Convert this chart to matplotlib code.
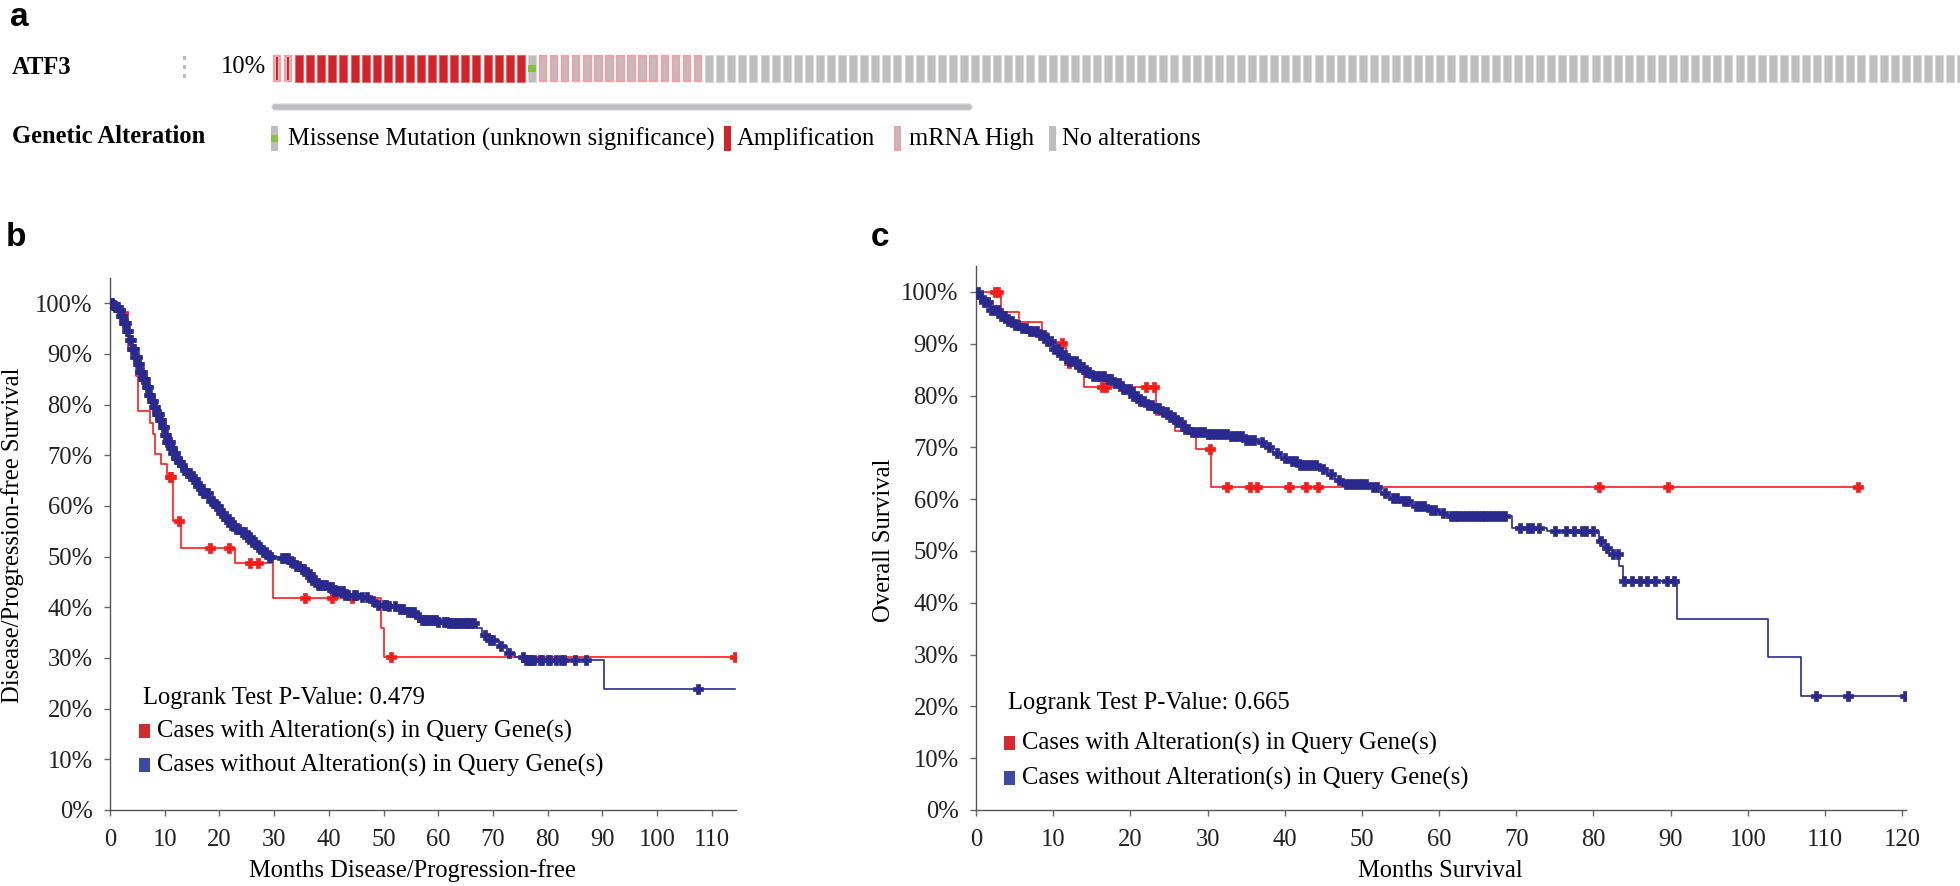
import numpy as np
import matplotlib
matplotlib.use("Agg")
import matplotlib.pyplot as plt
from matplotlib.patches import Rectangle, FancyBboxPatch

# ---------------- data ----------------
gene = "ATF3"
altered_pct = "10%"
alt_types = ["amp_mrna", "amp", "missense", "mrna", "none"]
alt_counts = [2, 21, 1, 15, 114]
legend_items = ["Missense Mutation (unknown significance)", "Amplification", "mRNA High", "No alterations"]

# Panel b: Disease/Progression-free survival
b_red_t = [0, 1.5, 3.2, 4.7, 5.1, 7.4, 7.8, 8.3, 9.3, 10.5, 11.5, 13.0, 22.9, 29.8, 49.5, 50.0]
b_red_s = [100, 98.1, 91.2, 85.6, 78.7, 76.3, 74.3, 70.2, 68.3, 65.8, 57.1, 51.8, 48.8, 41.9, 35.9, 30.1]
b_red_cens = [2.3, 10.9, 11.2, 12.7, 18.2, 21.7, 25.6, 27.1, 35.6, 40.5, 44.2, 51.3, 114.3]
b_red_end = 114.3

b_blue_t = [0, 0.5, 1, 1.5, 2, 2.5, 3, 3.5, 4, 4.5, 5, 5.5, 6, 6.5, 7, 7.5, 8, 8.5, 9, 9.5, 10, 10.5, 11,
            11.5, 12, 12.5, 13, 13.5, 14, 15, 16, 17, 18, 19, 20, 21, 22, 23, 24, 25,
            26, 27, 28, 29, 31, 33, 34, 35, 36, 37, 38, 40, 41, 43, 46, 47.5, 49, 51, 53, 54, 56, 57, 60,
            62, 67, 68, 69.5, 71, 72.5, 74, 76, 90.2]
b_blue_s = [100, 99.7, 99.3, 98.6, 97.5, 96.2, 94.5, 92.8, 91, 89.5, 88, 86.5, 85, 83.5, 82, 80.8, 79.5,
            78.2, 77, 75.5, 74, 72.7, 71.5, 70.5, 69.5, 68.7, 68, 67.2, 66.5, 65.3, 64, 62.5, 61,
            60, 58.7, 57.5, 56.2, 55.5, 54.8, 53.8, 52.8, 52, 51, 50, 49.7, 49, 48.2, 47.5, 46.5, 45.3,
            44.5, 44, 43.3, 42.5, 42, 41.3, 40.5, 40.2, 39.6, 39, 38, 37.5, 37.2, 37, 36, 34.5, 33.5,
            32.3, 31, 30.2, 29.7, 23.9]
b_blue_cens = [0.2, 0.4, 0.6, 0.8, 1.0, 1.2, 1.4, 1.6, 1.8, 2.0, 2.2, 2.5, 2.7, 2.9, 3.1, 3.3, 3.6, 3.8,
               4.0, 4.2, 4.4, 4.6, 4.9, 5.1, 5.3, 5.5, 5.8, 6.0, 6.2, 6.4, 6.7, 6.9, 7.1, 7.3, 7.6, 7.8,
               8.0, 8.2, 8.5, 8.7, 8.9, 9.1, 9.4, 9.6, 9.8, 10.0, 10.3, 10.5, 10.7, 10.9, 11.2, 11.4,
               11.6, 11.8, 12.1, 12.3, 12.6, 12.8, 13.2, 13.7, 14.1, 14.6, 15.1,
               15.5, 16.0, 16.5, 17.0, 17.4, 17.9, 18.4, 18.8, 19.3, 19.8, 20.3, 20.7, 21.2, 21.7, 22.2,
               22.6, 23.1, 23.6, 24.1, 24.6, 25.0, 25.5, 26.0, 26.5, 27.0, 27.5, 28.0, 28.5, 29.0, 29.5,
               31.5, 32.0, 32.5, 33.0, 33.5, 34.0, 34.5, 35.0, 35.5, 36.0, 36.5, 37.0, 37.5, 38.0, 38.5,
               39.0, 39.5, 40.0, 40.5, 41.0, 41.5, 42.0, 42.5, 43.0, 43.5, 44.5, 45.0, 46.0, 47.0, 48.0,
               49.0, 50.0, 50.5, 51.0, 52.0, 53.0, 53.5, 54.5, 55.0, 55.5, 56.5, 57.0, 57.5, 58.0, 58.5,
               59.0, 59.5, 60.0, 61.0, 61.5, 62.0, 62.5, 63.0, 63.5, 64.0, 64.5, 65.0, 65.5, 66.0, 66.5,
               68.5, 69.5, 70.0, 71.5, 73.0, 75.5, 76.0, 76.5, 77.0, 77.5, 78.5, 79.0, 80.0, 80.5, 81.5,
               82.5, 83.0, 85.0, 87.0, 107.4]
b_blue_end = 114.3
b_pvalue = "0.479"

# Panel c: Overall survival
c_red_t = [0, 3.2, 5.6, 8.5, 9.3, 11.7, 14.0, 23.3, 25.8, 28.5, 30.5]
c_red_s = [100, 96.2, 94.2, 92.0, 90.1, 86.2, 81.7, 76.3, 73.1, 69.6, 62.4]
c_red_cens = [2.4, 2.9, 11.1, 12.0, 16.3, 16.8, 22.0, 23.0, 30.3, 32.5, 35.5, 36.4, 40.5, 42.7, 44.3,
              80.7, 89.7, 114.3]
c_red_end = 114.3

c_blue_t = [0, 0.5, 1, 2, 3, 4, 5, 6, 7, 8, 9, 10, 11, 12, 13, 14, 15, 17, 18, 19, 20, 21, 22, 23, 24, 25,
            26, 27, 28, 30, 33, 35, 36.5, 37.5, 38.5, 39.5, 40.5, 42, 44.5, 45.5, 46.5, 47.5, 51, 52.5,
            53.5, 55, 56.5, 58.5, 60, 61, 69.5, 74, 80.7, 81.5, 82, 83.3, 83.8, 90.8, 102.6, 106.9]
c_blue_s = [100, 99, 98, 96.5, 95.3, 94.3, 93.6, 93, 92.4, 91.6, 90.6, 89, 87.8, 86.7, 85.6, 84.6, 83.8,
            83.2, 82.5, 81.3, 80, 79, 78.2, 77.5, 76.8, 75.8, 74.8, 73.6, 73, 72.6, 72.1, 71.5, 71, 70,
            69, 68, 67.3, 66.6, 65.8, 64.8, 63.6, 63, 62.4, 61.2, 60.3, 59.6, 58.7, 58, 57.3, 56.7, 54.5,
            53.8, 52, 50.5, 49.5, 47, 44.2, 36.8, 29.5, 22.0]
c_blue_cens = [0.3, 0.7, 1.1, 1.5, 2.0, 2.4, 2.8, 3.3, 3.7, 4.2, 4.6, 5.1, 5.5, 6.0, 6.5, 7.0, 7.4, 7.9,
               8.3, 8.8, 9.2, 9.7, 10.1, 10.6, 11.0, 11.5, 12.0, 12.4, 12.9, 13.3, 13.8, 14.3, 14.7, 15.2,
               15.7, 16.1, 16.6, 17.1, 17.5, 18.0, 18.5, 19.0, 19.4, 19.9, 20.4, 20.9, 21.3, 21.8, 22.3,
               22.8, 23.2, 23.7, 24.2, 24.7, 25.1, 25.6, 26.1, 26.6, 27.1, 27.5, 28.0, 28.5, 29.0, 29.5,
               30.0, 30.5, 31.0, 31.5, 32.0, 32.5, 33.0, 33.5, 34.0, 34.5, 35.0, 35.5, 36.0, 37.0, 38.0,
               39.0, 40.0, 41.0, 41.5, 42.0, 42.5, 43.0, 43.5, 44.0, 45.0, 46.0, 47.0, 48.0, 48.5, 49.0,
               49.5, 50.0, 50.5, 51.5, 52.0, 53.0, 54.0, 54.5, 55.5, 56.0, 57.0, 57.5, 58.0, 59.0, 59.5,
               60.5, 61.5, 62.0, 62.5, 63.0, 63.5, 64.0, 64.5, 65.0, 65.5, 66.0, 66.5, 67.0, 67.5, 68.0,
               68.5, 70.5, 71.5, 72.0, 73.0, 75.0, 76.5, 77.5, 78.5, 79.0, 80.0, 81.0, 81.8, 82.5, 83.2,
               84.0, 85.0, 86.0, 87.0, 88.0, 89.5, 90.4, 108.9, 113.0, 120.4]
c_blue_end = 120.4
c_pvalue = "0.665"

series_labels = ["Cases with Alteration(s) in Query Gene(s)", "Cases without Alteration(s) in Query Gene(s)"]
y_ticks = [0, 10, 20, 30, 40, 50, 60, 70, 80, 90, 100]
y_ticklabels = ["0%", "10%", "20%", "30%", "40%", "50%", "60%", "70%", "80%", "90%", "100%"]
b_xticks = [0, 10, 20, 30, 40, 50, 60, 70, 80, 90, 100, 110]
c_xticks = [0, 10, 20, 30, 40, 50, 60, 70, 80, 90, 100, 110, 120]

# ---------------- style ----------------
W, H = 1960, 886
SERIF = ["Liberation Serif", "DejaVu Serif"]
SANS = ["Liberation Sans", "DejaVu Sans"]
RED = "#ff1a1a"
BLUE = "#2a2a8e"
LEG_RED = "#d42a2f"
LEG_BLUE = "#3c4aa6"
FS = 17.7

fig = plt.figure(figsize=(W / 100, H / 100), dpi=100)
fig.patch.set_facecolor("white")


def px_axes(left, top, right, bottom):
    return fig.add_axes([left / W, 1 - bottom / H, (right - left) / W, (bottom - top) / H])


def step_value(times, vals, t):
    idx = np.searchsorted(np.asarray(times), np.asarray(t), side="right") - 1
    return np.asarray(vals)[idx]


def draw_km(ax, times, vals, t_end, cens, color, z):
    t = list(times) + [t_end]
    v = list(vals) + [vals[-1]]
    ax.step(t, v, where="post", color=color, lw=1.2, zorder=z)
    cy = step_value(times, vals, cens)
    ax.plot(cens, cy, linestyle="none", marker="P", ms=6.5, color=color, mec=color, mew=0.5, zorder=z)


def style_km(ax, xmax, xticks):
    ax.set_xlim(0, xmax)
    ax.set_ylim(0, 105)
    ax.patch.set_alpha(0)
    for s in ["top", "right"]:
        ax.spines[s].set_visible(False)
    for s in ["left", "bottom"]:
        ax.spines[s].set_color("#555555")
        ax.spines[s].set_linewidth(1.0)
    ax.set_yticks(y_ticks)
    ax.set_yticklabels(y_ticklabels)
    ax.set_xticks(xticks)
    ax.set_xticklabels([str(x) for x in xticks])
    ax.tick_params(direction="out", length=4.5, width=1, color="#666666", labelcolor="#222222")
    ax.tick_params(axis="y", pad=8)
    ax.tick_params(axis="x", pad=9.5)
    for lab in ax.get_xticklabels() + ax.get_yticklabels():
        lab.set_family(SERIF)
        lab.set_fontsize(FS)


# ---------------- KM panel b ----------------
axb = px_axes(110, 278, 736, 810)
style_km(axb, 114.4, b_xticks)
draw_km(axb, b_red_t, b_red_s, b_red_end, b_red_cens, RED, 3)
draw_km(axb, b_blue_t, b_blue_s, b_blue_end, b_blue_cens, BLUE, 4)

# ---------------- KM panel c ----------------
axc = px_axes(976, 266, 1906, 810)
style_km(axc, 120.5, c_xticks)
draw_km(axc, c_red_t, c_red_s, c_red_end, c_red_cens, RED, 3)
draw_km(axc, c_blue_t, c_blue_s, c_blue_end, c_blue_cens, BLUE, 4)

# ---------------- overlay (pixel coordinates) ----------------
ov = fig.add_axes([0, 0, 1, 1])
ov.set_xlim(0, W)
ov.set_ylim(H, 0)
ov.axis("off")
ov.patch.set_alpha(0)

# panel letters
ov.text(10, 2, "a", family=SANS, weight="bold", fontsize=24, va="top", ha="left")
ov.text(6, 222, "b", family=SANS, weight="bold", fontsize=24, va="top", ha="left")
ov.text(871, 222, "c", family=SANS, weight="bold", fontsize=24, va="top", ha="left")

# oncoprint
ov.text(12, 67, gene, family=SERIF, weight="bold", fontsize=FS, va="center", ha="left")
for yy in (58, 67, 76):
    ov.add_patch(Rectangle((182.5, yy - 2), 3, 4, fc="#bbbbbb", ec="none"))
ov.text(266, 67, altered_pct, family=SERIF, fontsize=FS, va="center", ha="right")

x0, pitch, bw, ytop, bh = 273.0, 11.08, 8.0, 55.0, 27.0
GREY, GREY_E = "#bebebe", "#d8d8d8"
AMP, AMP_E = "#d2232a", "#e26a6e"
PINK = "#f2a0a5"
GREEN = "#82c341"
i = 0
for kind, n in zip(alt_types, alt_counts):
    for _ in range(n):
        x = x0 + i * pitch
        if kind == "none":
            ov.add_patch(Rectangle((x, ytop), bw, bh, fc=GREY, ec=GREY_E, lw=0.8))
        elif kind == "amp":
            ov.add_patch(Rectangle((x, ytop), bw, bh, fc=AMP, ec=AMP_E, lw=0.8))
        elif kind == "mrna":
            ov.add_patch(Rectangle((x + 0.7, ytop + 0.7), bw - 1.4, bh - 1.4, fc=GREY, ec=PINK, lw=1.6))
        elif kind == "amp_mrna":
            ov.add_patch(Rectangle((x + 0.7, ytop + 0.7), bw - 1.4, bh - 1.4, fc="#f6c4c7", ec=PINK, lw=1.6))
            ov.add_patch(Rectangle((x + 3, ytop + 2), 2.2, bh - 4, fc=AMP, ec="none"))
        elif kind == "missense":
            ov.add_patch(Rectangle((x, ytop), bw, bh, fc=GREY, ec=GREY_E, lw=0.8))
            ov.add_patch(Rectangle((x, ytop + bh * 0.36), bw, bh * 0.28, fc=GREEN, ec="none"))
        i += 1

# scrollbar
ov.add_patch(FancyBboxPatch((272, 104), 700, 6, boxstyle="round,pad=0,rounding_size=3",
                            fc="#bdbdc1", ec="#d4d4d6", lw=0.8))

# oncoprint legend
ov.text(12, 136, "Genetic Alteration", family=SERIF, weight="bold", fontsize=FS, va="center", ha="left")
ly, lh, lw_ = 126, 25, 7
ov.add_patch(Rectangle((271, ly), lw_, lh, fc=GREY, ec="none"))
ov.add_patch(Rectangle((271, ly + lh * 0.36), lw_, lh * 0.28, fc=GREEN, ec="none"))
ov.text(288, 139, legend_items[0], family=SERIF, fontsize=FS, va="center", ha="left")
ov.add_patch(Rectangle((724, ly), lw_, lh, fc=AMP, ec="none"))
ov.text(737, 139, legend_items[1], family=SERIF, fontsize=FS, va="center", ha="left")
ov.add_patch(Rectangle((894.7, ly + 0.7), lw_ - 1.4, lh - 1.4, fc=GREY, ec=PINK, lw=1.4))
ov.text(909, 139, legend_items[2], family=SERIF, fontsize=FS, va="center", ha="left")
ov.add_patch(Rectangle((1049, ly), lw_, lh, fc=GREY, ec="none"))
ov.text(1062, 139, legend_items[3], family=SERIF, fontsize=FS, va="center", ha="left")

# KM axis labels
ov.text(13, 535, "Disease/Progression-free Survival", family=SERIF, fontsize=FS, rotation=90,
        va="center", ha="center")
ov.text(412, 871, "Months Disease/Progression-free", family=SERIF, fontsize=FS, va="center", ha="center")
ov.text(884, 540, "Overall Survival", family=SERIF, fontsize=FS, rotation=90, va="center", ha="center")
ov.text(1440, 871, "Months Survival", family=SERIF, fontsize=FS, va="center", ha="center")


# KM legends
def km_legend(xt, y_p, y_r, y_b, pval):
    ov.text(xt, y_p, "Logrank Test P-Value: " + pval, family=SERIF, fontsize=FS, va="center", ha="left")
    ov.add_patch(Rectangle((xt - 4, y_r - 7), 11, 14, fc=LEG_RED, ec="none"))
    ov.text(xt + 14, y_r, series_labels[0], family=SERIF, fontsize=FS, va="center", ha="left")
    ov.add_patch(Rectangle((xt - 4, y_b - 7), 11, 14, fc=LEG_BLUE, ec="none"))
    ov.text(xt + 14, y_b, series_labels[1], family=SERIF, fontsize=FS, va="center", ha="left")


km_legend(143, 698, 731, 765, b_pvalue)
km_legend(1008, 703, 743, 778, c_pvalue)

fig.savefig("out.png", dpi=100, facecolor="white")
